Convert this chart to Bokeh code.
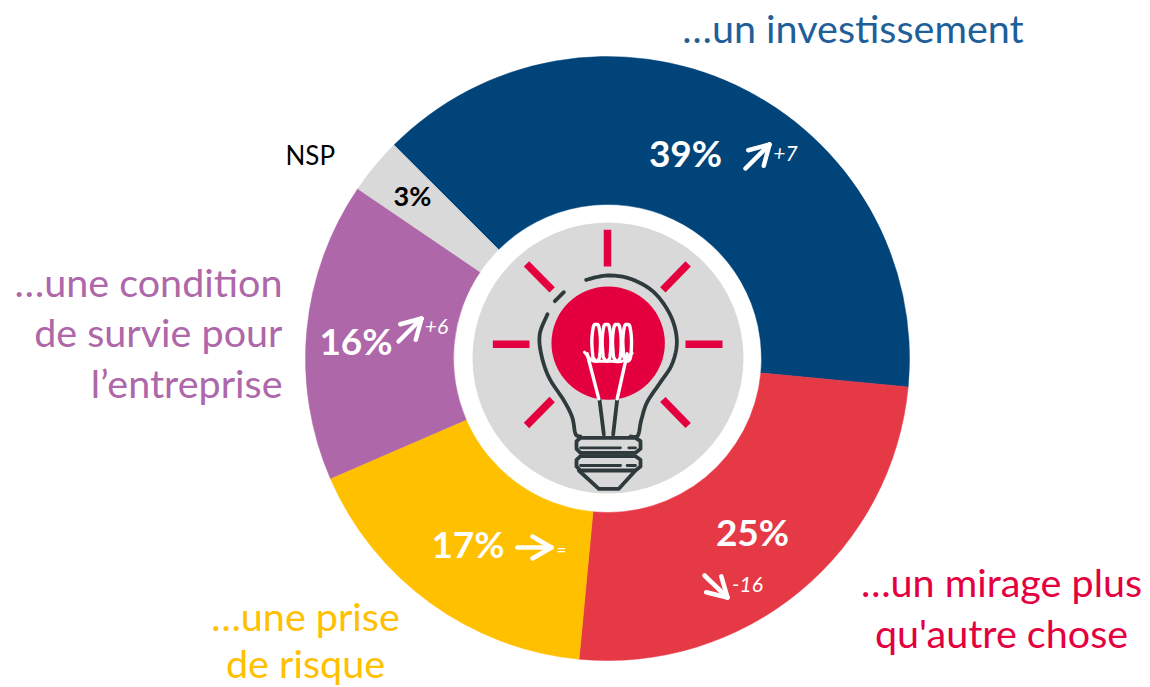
import numpy as np
from bokeh.plotting import figure
from bokeh.models import ColumnDataSource
from bokeh.core.properties import value
from bokeh.embed import file_html
from bokeh.resources import INLINE

categories = ["…un investissement", "…un mirage plus qu'autre chose", "…une prise de risque",
              "…une condition de survie pour l’entreprise", "NSP"]
values = [39, 25, 17, 16, 3]
colors = ["#00447A", "#E63946", "#FFC000", "#AE67A8", "#D9D9D9"]
FONT = "Lato"
H = 687

def Y(py):
    return H - np.asarray(py, dtype=float)

p = figure(width=1150, height=687, x_range=(0, 1150), y_range=(0, H),
           toolbar_location=None, output_backend="svg", min_border=0,
           outline_line_color=None, background_fill_color="white")
p.axis.visible = False
p.grid.visible = False

CX, CY = 607, 358
R_OUT, R_IN, R_ICON = 302, 154, 135.5
START = 135.0
v = np.array(values, dtype=float)
ends = START - np.cumsum(v) * 3.6
starts = np.r_[START, ends[:-1]]
src = ColumnDataSource(dict(x=[CX] * 5, y=[Y(CY)] * 5, s=np.radians(ends), e=np.radians(starts), c=colors))
p.annular_wedge(x="x", y="y", inner_radius=R_IN, outer_radius=R_OUT, start_angle="s", end_angle="e",
                fill_color="c", line_color="c", line_width=0.5, source=src)

# icon
p.circle(x=[CX + .5], y=[Y(CY - .5)], radius=R_ICON, fill_color="#D9D9D9", line_color=None)
def zx(a): return 450 + np.asarray(a, dtype=float) / 3
def zy(a): return 200 + np.asarray(a, dtype=float) / 3
def smooth(pts, n=12):
    P = np.array([pts[0]] + list(pts) + [pts[-1]], dtype=float)
    out = []
    for i in range(1, len(P) - 2):
        for t in np.linspace(0, 1, n, endpoint=False):
            out.append(0.5 * ((2 * P[i]) + (-P[i-1] + P[i+1]) * t + (2*P[i-1] - 5*P[i] + 4*P[i+1] - P[i+2]) * t*t
                              + (-P[i-1] + 3*P[i] - 3*P[i+1] + P[i+2]) * t**3))
    out.append(P[-2])
    return np.array(out)
def zline(pts, color, w, smooth_it=False):
    a = smooth(pts) if smooth_it else np.array(pts, dtype=float)
    p.line(zx(a[:, 0]), Y(zy(a[:, 1])), line_color=color, line_width=w, line_cap="round", line_join="round")

PINK = "#E4003F"
DARK = "#2F3A3C"
for r in [[(471,88),(471,198)], [(127,431),(237,431)], [(705,431),(816,431)], [(228,190),(305,268)],
          [(713,190),(637,268)], [(305,597),(228,675)], [(637,597),(713,675)]]:
    a = np.array(r, dtype=float)
    p.line(zx(a[:,0]), Y(zy(a[:,1])), line_color=PINK, line_width=7.5, line_cap="butt")
p.circle(x=[zx(473)], y=[Y(zy(428))], radius=56.7, fill_color=PINK, line_color=None)
DW = 3.8
zline([(407,238),(470,225),(540,235),(610,275),(660,345),(679,420),(665,490),(630,545),(590,605),(572,660),(562,705),(540,708)], DARK, DW, True)
zline([(291,341),(268,400),(272,460),(295,530),(340,600),(365,650),(375,700),(390,708)], DARK, DW, True)
zline([(313,302),(340,275)], DARK, DW)
zline([(447,598),(460,702)], DARK, DW)
zline([(500,598),(488,702)], DARK, DW)
zline([(390,712),(555,712),(570,722),(570,745),(555,757),(390,757),(378,745),(378,722),(390,712)], DARK, DW)
zline([(390,767),(555,767),(570,778),(570,798),(555,810),(390,810),(378,798),(378,778),(390,767)], DARK, DW)
zline([(390,742),(510,742)], DARK, 2.8); zline([(535,742),(555,742)], DARK, 2.8)
zline([(390,795),(510,795)], DARK, 2.8); zline([(530,795),(555,795)], DARK, 2.8)
zline([(385,810),(445,865),(505,865),(555,810)], DARK, DW)
zline([(410,460),(445,595)], "white", 3.4)
zline([(530,460),(500,595)], "white", 3.4)
zline([(402,455),(425,480),(450,482),(480,482),(515,482),(545,458)], "white", 3, True)
for c in [437, 468, 499, 530]:
    zline([(c-10,470),(c-13,420),(c-8,378),(c,372),(c+8,378),(c+13,420),(c+10,470),(c,482),(c-10,470)], "white", 3.4, True)

# labels: y is the wanted baseline; the offset corrects where the SVG text lands
def txt(x, y, s, size, color, align="left", style="normal"):
    p.text(x=[x], y=[Y(y - 0.405 * size)], text=[s], text_font=value(FONT), text_font_size=f"{size}px",
           text_color=color, text_align=align, text_baseline="alphabetic", text_font_style=style)

BLUE = "#1F5F99"
RED = "#E4003F"
PUR = "#AE67A8"
YEL = "#FFC000"
LS = 39.5
txt(852.5, 43, "…un investissement", LS, BLUE, "center")
txt(285, 165, "NSP", 26, "black")
txt(282, 297, "…une condition", LS, PUR, "right")
txt(282, 347, "de survie pour", LS, PUR, "right")
txt(282, 398, "l’entreprise", LS, PUR, "right")
txt(1001, 597, "…un mirage plus", LS, RED, "center")
txt(1001, 648, "qu'autre chose", LS, RED, "center")
txt(305, 631, "…une prise", LS, YEL, "center")
txt(305, 678, "de risque", LS, YEL, "center")
txt(412, 206, "3%", 27, "black", "center", "bold")
txt(685, 167, "39%", 37, "white", "center", "bold")
txt(355.5, 355, "16%", 37, "white", "center", "bold")
txt(467.5, 558, "17%", 37, "white", "center", "bold")
txt(752, 546, "25%", 37, "white", "center", "bold")
txt(785, 162, "+7", 21, "white", "center", "italic")
txt(436, 335, "+6", 21, "white", "center", "italic")
txt(747, 593, "-16", 21, "white", "center", "italic")
txt(561, 556, "=", 17, "white", "center", "italic")

def arrow(x0, y0, x1, y1, L=22, w=4.5):
    a = np.arctan2(y1 - y0, x1 - x0)
    for da in (2.62, -2.62):
        p.line([x1, x1 + L * np.cos(a + da)], Y([y1, y1 + L * np.sin(a + da)]), line_color="white", line_width=w, line_cap="round")
    p.line([x0, x1], Y([y0, y1]), line_color="white", line_width=w, line_cap="round")

arrow(745, 168, 769, 144)
arrow(398, 341, 421, 318)
arrow(517, 547, 551, 547)
arrow(704, 575, 727, 597)

open("out.html", "w").write(file_html(p, INLINE))
